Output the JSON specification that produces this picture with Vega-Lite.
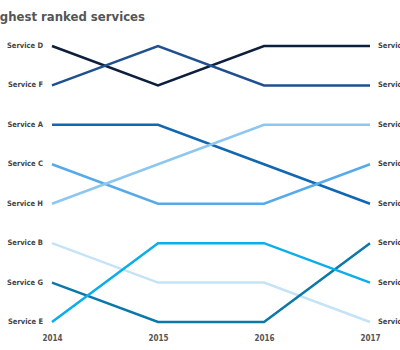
{
  "$schema": "https://vega.github.io/schema/vega-lite/v6.json",
  "autosize": {"type": "none"},
  "width": 318,
  "height": 276,
  "padding": {"left": 52, "top": 46, "right": 30, "bottom": 28},
  "background": "white",
  "title": {
    "text": "Highest ranked services",
    "anchor": "start",
    "frame": "group",
    "dx": -66,
    "dy": -7,
    "font": "'DejaVu Sans Condensed', Roboto, sans-serif",
    "fontSize": 13,
    "fontWeight": "bold",
    "color": "#555555",
    "offset": 10
  },
  "config": {"view": {"stroke": null}},
  "data": {
    "values": [
      {"service": "Service D", "year": 2014, "rank": 1},
      {"service": "Service D", "year": 2015, "rank": 2},
      {"service": "Service D", "year": 2016, "rank": 1},
      {"service": "Service D", "year": 2017, "rank": 1},
      {"service": "Service F", "year": 2014, "rank": 2},
      {"service": "Service F", "year": 2015, "rank": 1},
      {"service": "Service F", "year": 2016, "rank": 2},
      {"service": "Service F", "year": 2017, "rank": 2},
      {"service": "Service A", "year": 2014, "rank": 3},
      {"service": "Service A", "year": 2015, "rank": 3},
      {"service": "Service A", "year": 2016, "rank": 4},
      {"service": "Service A", "year": 2017, "rank": 5},
      {"service": "Service C", "year": 2014, "rank": 4},
      {"service": "Service C", "year": 2015, "rank": 5},
      {"service": "Service C", "year": 2016, "rank": 5},
      {"service": "Service C", "year": 2017, "rank": 4},
      {"service": "Service H", "year": 2014, "rank": 5},
      {"service": "Service H", "year": 2015, "rank": 4},
      {"service": "Service H", "year": 2016, "rank": 3},
      {"service": "Service H", "year": 2017, "rank": 3},
      {"service": "Service B", "year": 2014, "rank": 6},
      {"service": "Service B", "year": 2015, "rank": 7},
      {"service": "Service B", "year": 2016, "rank": 7},
      {"service": "Service B", "year": 2017, "rank": 8},
      {"service": "Service G", "year": 2014, "rank": 7},
      {"service": "Service G", "year": 2015, "rank": 8},
      {"service": "Service G", "year": 2016, "rank": 8},
      {"service": "Service G", "year": 2017, "rank": 6},
      {"service": "Service E", "year": 2014, "rank": 8},
      {"service": "Service E", "year": 2015, "rank": 6},
      {"service": "Service E", "year": 2016, "rank": 6},
      {"service": "Service E", "year": 2017, "rank": 7}
    ]
  },
  "encoding": {
    "x": {
      "field": "year",
      "type": "quantitative",
      "scale": {"domain": [2014, 2017], "nice": false, "zero": false},
      "axis": {
        "values": [2014, 2015, 2016, 2017],
        "format": "d",
        "title": null,
        "domain": false,
        "ticks": false,
        "grid": false,
        "labelPadding": 12,
        "labelFont": "'DejaVu Sans Condensed', Roboto, sans-serif",
        "labelFontWeight": "bold",
        "labelFontSize": 8,
        "labelColor": "#555555",
        "labelFlush": false
      }
    },
    "y": {
      "field": "rank",
      "type": "quantitative",
      "scale": {"domain": [1, 8], "nice": false, "zero": false, "reverse": true},
      "axis": null
    }
  },
  "layer": [
    {
      "mark": {"type": "line", "strokeWidth": 2.5},
      "encoding": {
        "color": {
          "field": "service",
          "type": "nominal",
          "legend": null,
          "scale": {
            "domain": ["Service D", "Service F", "Service A", "Service C", "Service H", "Service B", "Service G", "Service E"],
            "range": ["#0d1f3c", "#21508e", "#1167b1", "#56aaea", "#8dc7f1", "#c5e3f7", "#0b78a8", "#0aaee8"]
          }
        },
        "detail": {"field": "service"}
      }
    },
    {
      "transform": [{"filter": "datum.year == 2014"}],
      "mark": {"type": "text", "align": "right", "baseline": "middle", "dx": -9, "font": "'DejaVu Sans Condensed', Roboto, sans-serif", "fontWeight": "bold", "fontSize": 7.5, "color": "#444444"},
      "encoding": {"text": {"field": "service"}}
    },
    {
      "transform": [{"filter": "datum.year == 2017"}],
      "mark": {"type": "text", "align": "left", "baseline": "middle", "dx": 8, "font": "'DejaVu Sans Condensed', Roboto, sans-serif", "fontWeight": "bold", "fontSize": 7.5, "color": "#444444"},
      "encoding": {"text": {"field": "service"}}
    }
  ]
}
